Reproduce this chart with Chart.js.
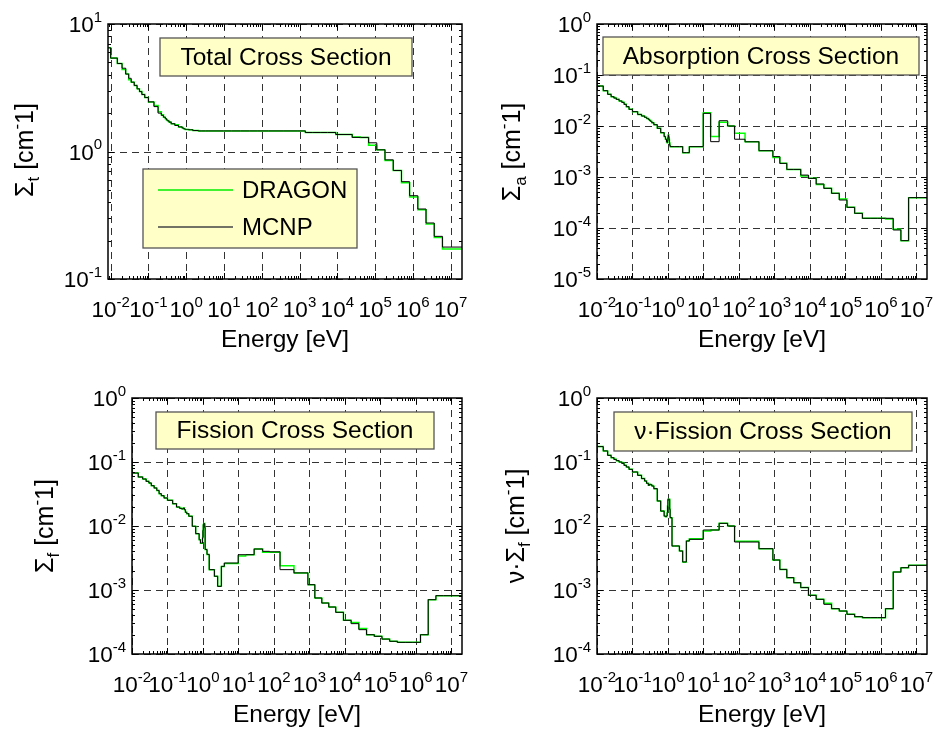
<!DOCTYPE html>
<html><head><meta charset="utf-8">
<script src="https://cdn.jsdelivr.net/npm/chart.js@4.4.1/dist/chart.umd.min.js"></script>
<style>
html,body{margin:0;padding:0;background:#fff;}
#wrap{position:relative;width:933px;height:733px;overflow:hidden;background:#fff;}
#wrap canvas{position:absolute;left:0;top:0;}
</style></head><body><div id="wrap">
<canvas id="c0" width="933" height="733"></canvas>
<canvas id="c1" width="933" height="733"></canvas>
<canvas id="c2" width="933" height="733"></canvas>
<canvas id="c3" width="933" height="733"></canvas>
</div>
<script>
// Group energy boundaries [eV] (ascending); last value = upper limit of the plotted data
const energyEdges = [0.005, 0.01, 0.015, 0.02, 0.025, 0.03, 0.035, 0.042, 0.05, 0.058,
  0.067, 0.08, 0.1, 0.14, 0.18, 0.22, 0.25, 0.28, 0.3, 0.32,
  0.35, 0.4, 0.5, 0.625, 0.78, 0.85, 0.91, 0.95, 0.972, 0.996,
  1.02, 1.045, 1.071, 1.097, 1.123, 1.15, 1.3, 1.5, 2.1, 2.6,
  3.3, 4.0, 9.877, 15.968, 27.7, 48.052, 75.501, 148.73, 367.26, 906.9,
  1425.1, 2239.45, 3519.1, 5530, 9118, 15030, 24780, 40850, 67340, 111000,
  183000, 302500, 500000, 821000, 1353000, 2231000, 3679000, 6065500, 20000000];

// Total cross section [cm^-1]
const totalMCNP = [6.5, 5.4, 4.9, 4.5, 4.05, 3.75, 3.5, 3.3, 3.1, 2.95,
  2.8, 2.65, 2.45, 2.25, 2.0, 1.92, 1.86, 1.81, 1.77, 1.74,
  1.70, 1.65, 1.60, 1.56, 1.53, 1.51, 1.50, 1.49, 1.49, 1.49,
  1.49, 1.49, 1.49, 1.49, 1.49, 1.48, 1.48, 1.46, 1.45, 1.45,
  1.45, 1.45, 1.45, 1.45, 1.45, 1.45, 1.45, 1.45, 1.45, 1.45,
  1.41, 1.41, 1.41, 1.41, 1.36, 1.36, 1.29, 1.29, 1.17, 1.03,
  0.86, 0.71, 0.58, 0.45, 0.354, 0.275, 0.216, 0.178];
const totalDRAGON = [6.5, 5.4, 4.9, 4.4, 4.05, 3.65, 3.5, 3.3, 3.1, 2.95,
  2.8, 2.65, 2.45, 2.3, 2.05, 1.94, 1.86, 1.81, 1.77, 1.74,
  1.70, 1.65, 1.62, 1.56, 1.53, 1.51, 1.50, 1.49, 1.49, 1.49,
  1.49, 1.49, 1.49, 1.49, 1.49, 1.48, 1.48, 1.46, 1.45, 1.45,
  1.45, 1.45, 1.45, 1.45, 1.45, 1.45, 1.45, 1.45, 1.45, 1.45,
  1.41, 1.41, 1.41, 1.41, 1.36, 1.36, 1.30, 1.29, 1.12, 1.03,
  0.85, 0.71, 0.57, 0.44, 0.35, 0.27, 0.212, 0.172];

// Absorption cross section [cm^-1]
const absMCNP = [0.093, 0.0608, 0.0493, 0.0418, 0.0376, 0.0354, 0.0333, 0.031, 0.0291, 0.0266,
  0.0239, 0.0212, 0.0191, 0.0169, 0.0157, 0.0148, 0.0141, 0.0135, 0.0129, 0.0124,
  0.0116, 0.0106, 0.009, 0.0074, 0.0062, 0.0055, 0.0049, 0.0047, 0.0052, 0.006,
  0.0067, 0.0062, 0.0055, 0.0047, 0.0042, 0.00394, 0.00394, 0.00394, 0.00394, 0.0030,
  0.0030, 0.00394, 0.0177, 0.00493, 0.0127, 0.0100, 0.0055, 0.0049, 0.00328, 0.00251,
  0.00185, 0.00141, 0.00141, 0.00109, 0.00094, 0.00073, 0.0006, 0.000479, 0.000354, 0.000254,
  0.000194, 0.000155, 0.000155, 0.000155, 0.000155, 0.0000914, 0.0000565, 0.000394];
const absDRAGON = [0.093, 0.0608, 0.0493, 0.0418, 0.0376, 0.0354, 0.0333, 0.031, 0.0291, 0.0266,
  0.0239, 0.0212, 0.0191, 0.0169, 0.0157, 0.0148, 0.0141, 0.0135, 0.0129, 0.0124,
  0.0116, 0.0106, 0.009, 0.0074, 0.0062, 0.0055, 0.0049, 0.0047, 0.0052, 0.006,
  0.0067, 0.0062, 0.0055, 0.0047, 0.0042, 0.00394, 0.00394, 0.00394, 0.00394, 0.0030,
  0.0030, 0.00394, 0.0181, 0.0062, 0.0118, 0.0100, 0.0072, 0.0049, 0.00328, 0.0024,
  0.00185, 0.00141, 0.00141, 0.00105, 0.00094, 0.00071, 0.0006, 0.000479, 0.00037, 0.000254,
  0.000194, 0.000155, 0.000155, 0.000155, 0.00015, 0.000095, 0.0000565, 0.000394];

// Fission cross section [cm^-1]
const fisMCNP = [0.0856, 0.0673, 0.0583, 0.0542, 0.0499, 0.047, 0.0427, 0.0393, 0.036, 0.032,
  0.0298, 0.0274, 0.0252, 0.0223, 0.0198, 0.0189, 0.0185, 0.0191, 0.018, 0.0164,
  0.0156, 0.0142, 0.0099, 0.0076, 0.0061, 0.0054, 0.0054, 0.0054, 0.0065, 0.0085,
  0.0105, 0.0109, 0.0109, 0.0109, 0.0095, 0.0043, 0.0036, 0.00208, 0.00164, 0.00114,
  0.00234, 0.00264, 0.00356, 0.00356, 0.00437, 0.00402, 0.00395, 0.00208, 0.00185, 0.00121,
  0.00075, 0.000626, 0.000542, 0.000448, 0.000336, 0.000298, 0.00024, 0.0002, 0.000189, 0.000171,
  0.000158, 0.000152, 0.000152, 0.000152, 0.0002, 0.000706, 0.000815, 0.000815];
const fisDRAGON = [0.0856, 0.0673, 0.0583, 0.0542, 0.0499, 0.047, 0.0427, 0.0393, 0.036, 0.032,
  0.0298, 0.0274, 0.0252, 0.0223, 0.0198, 0.0189, 0.0185, 0.0191, 0.018, 0.0164,
  0.0156, 0.0142, 0.0099, 0.0076, 0.0061, 0.0054, 0.0054, 0.0054, 0.0065, 0.0085,
  0.0105, 0.0109, 0.0109, 0.0109, 0.0095, 0.0043, 0.0036, 0.00208, 0.00164, 0.00114,
  0.00232, 0.0026, 0.0034, 0.00356, 0.00437, 0.0039, 0.0039, 0.0024, 0.00185, 0.00121,
  0.00075, 0.000626, 0.000542, 0.000448, 0.000336, 0.00031, 0.00025, 0.0002, 0.000189, 0.000171,
  0.000158, 0.000152, 0.000152, 0.000152, 0.0002, 0.000706, 0.000815, 0.000815];

// nu-Fission cross section [cm^-1]
const nufisMCNP = [0.205, 0.174, 0.149, 0.127, 0.117, 0.110, 0.105, 0.100, 0.0953, 0.0887,
  0.0835, 0.0768, 0.0698, 0.0619, 0.055, 0.0505, 0.0465, 0.0432, 0.0448, 0.0442,
  0.0422, 0.0383, 0.0246, 0.0171, 0.0143, 0.014, 0.0143, 0.0162, 0.0205, 0.0261,
  0.0261, 0.0261, 0.0261, 0.0261, 0.0182, 0.0135, 0.00487, 0.00487, 0.00407, 0.00274,
  0.00583, 0.00619, 0.00866, 0.00866, 0.0110, 0.0100, 0.00562, 0.00562, 0.00442, 0.00294,
  0.0021, 0.00156, 0.0013, 0.00109, 0.000826, 0.000715, 0.000597, 0.000511, 0.000469, 0.000417,
  0.000383, 0.00037, 0.00037, 0.00037, 0.000511, 0.00191, 0.00223, 0.00243];
const nufisDRAGON = [0.205, 0.174, 0.149, 0.127, 0.117, 0.110, 0.105, 0.100, 0.0953, 0.0887,
  0.0835, 0.0768, 0.0698, 0.0619, 0.055, 0.0505, 0.0465, 0.0432, 0.0448, 0.0442,
  0.0422, 0.0383, 0.0246, 0.0171, 0.0143, 0.014, 0.0143, 0.0162, 0.0205, 0.0261,
  0.0261, 0.0261, 0.0261, 0.0261, 0.0182, 0.0135, 0.00487, 0.00487, 0.00407, 0.00274,
  0.00583, 0.00634, 0.00835, 0.00866, 0.0110, 0.0100, 0.0058, 0.0058, 0.00442, 0.00294,
  0.0021, 0.00156, 0.0013, 0.00109, 0.000826, 0.000715, 0.00062, 0.000511, 0.000469, 0.000417,
  0.000383, 0.00037, 0.00037, 0.00037, 0.000511, 0.00191, 0.00223, 0.00243];

const seriesNames = ['DRAGON', 'MCNP'];
const xAxisTitle = 'Energy [eV]';

const FONT = '"Liberation Sans", Arial, Helvetica, sans-serif';

function stepPoints(vals) {
  const pts = vals.map((v, i) => ({x: energyEdges[i], y: v}));
  pts.push({x: energyEdges[energyEdges.length - 1], y: vals[vals.length - 1]});
  return pts;
}

const panels = [
  {id:'c0', pad:{left:108, top:24, right:471, bottom:454}, xMin:8.5e-3, xMax:2e7, yMin:0.1, yMax:10,
   mcnp:totalMCNP, dragon:totalDRAGON, title:'Total Cross Section', titleBox:[160,38,252,38],
   yLabel:[['Σ',''],['t','sub'],[' [cm',''],['-','sup'],['1]','']], yLabelPos:[25,150],
   legend:{box:[143,169,214,79]}},
  {id:'c1', pad:{left:597, top:24, right:6, bottom:454}, xMin:1e-2, xMax:2e7, yMin:1e-5, yMax:1,
   mcnp:absMCNP, dragon:absDRAGON, title:'Absorption Cross Section', titleBox:[603,37,316,38],
   yLabel:[['Σ',''],['a','sub'],[' [cm',''],['-','sup'],['1]','']], yLabelPos:[512,152]},
  {id:'c2', pad:{left:132, top:398, right:471, bottom:79}, xMin:1e-2, xMax:2e7, yMin:1e-4, yMax:1,
   mcnp:fisMCNP, dragon:fisDRAGON, title:'Fission Cross Section', titleBox:[156,412,278,37],
   yLabel:[['Σ',''],['f','sub'],[' [cm',''],['-','sup'],['1]','']], yLabelPos:[45,526]},
  {id:'c3', pad:{left:597, top:398, right:6, bottom:79}, xMin:1e-2, xMax:2e7, yMin:1e-4, yMax:1,
   mcnp:nufisMCNP, dragon:nufisDRAGON, title:'ν·Fission Cross Section', titleBox:[614,412,298,39],
   yLabel:[['ν·Σ',''],['f','sub'],[' [cm',''],['-','sup'],['1]','']], yLabelPos:[516,526]}
];

function decades(min, max) {
  const out = [];
  for (let e = Math.floor(Math.log10(min)) - 1; e <= Math.ceil(Math.log10(max)) + 1; e++) {
    const v = Math.pow(10, e);
    if (v >= min * 0.999 && v <= max * 1.001) out.push(e);
  }
  return out;
}
function minors(min, max) {
  const out = [];
  for (let e = Math.floor(Math.log10(min)) - 1; e <= Math.ceil(Math.log10(max)); e++) {
    for (let m = 2; m <= 9; m++) { const v = m * Math.pow(10, e); if (v > min && v < max) out.push(v); }
  }
  return out;
}

function drawPow(ctx, exp, x, y, align) {
  const base = '10', ex = String(exp);
  ctx.font = '22.5px ' + FONT; const wb = ctx.measureText(base).width;
  ctx.font = '15px ' + FONT; const we = ctx.measureText(ex).width;
  const w = wb + we;
  const x0 = align === 'right' ? x - w : (align === 'center' ? x - w / 2 : x);
  ctx.textAlign = 'left'; ctx.textBaseline = 'alphabetic';
  ctx.font = '22.5px ' + FONT; ctx.fillText(base, x0, y);
  ctx.font = '15px ' + FONT; ctx.fillText(ex, x0 + wb, y - 10.5);
}

function drawRuns(ctx, runs, cx, cy) {
  // rotated text, centred at cx,cy
  const sizes = {'': 25, sub: 17, sup: 17};
  let total = 0;
  const widths = runs.map(r => { ctx.font = sizes[r[1]] + 'px ' + FONT; const w = ctx.measureText(r[0]).width; total += w; return w; });
  ctx.save();
  ctx.translate(cx, cy); ctx.rotate(-Math.PI / 2);
  ctx.textAlign = 'left'; ctx.textBaseline = 'alphabetic'; ctx.fillStyle = '#000';
  let x = -total / 2;
  runs.forEach((r, i) => {
    ctx.font = sizes[r[1]] + 'px ' + FONT;
    const dy = r[1] === 'sub' ? 6 : (r[1] === 'sup' ? -11 : 0);
    ctx.fillText(r[0], x, 8 + dy);
    x += widths[i];
  });
  ctx.restore();
}

function makeDecor(p) {
  return {
    id: 'decor_' + p.id,
    beforeDatasetsDraw(chart) {
      const {ctx, chartArea: a, scales: {x, y}} = chart;
      ctx.save();
      ctx.strokeStyle = 'rgba(0,0,0,0.8)'; ctx.lineWidth = 1; ctx.setLineDash([7, 5]);
      decades(p.xMin, p.xMax).forEach(e => {
        const px = Math.round(x.getPixelForValue(Math.pow(10, e))) + 0.5;
        ctx.beginPath(); ctx.moveTo(px, a.top); ctx.lineTo(px, a.bottom); ctx.stroke();
      });
      decades(p.yMin, p.yMax).forEach(e => {
        const py = Math.round(y.getPixelForValue(Math.pow(10, e))) + 0.5;
        ctx.beginPath(); ctx.moveTo(a.left, py); ctx.lineTo(a.right, py); ctx.stroke();
      });
      ctx.restore();
    },
    afterDatasetsDraw(chart) {
      const {ctx, chartArea: a, scales: {x, y}} = chart;
      ctx.save();
      ctx.setLineDash([]);
      // ticks
      ctx.strokeStyle = '#000'; ctx.lineWidth = 1;
      const tick = (px, len, vertical) => {
        ctx.beginPath();
        if (vertical) { ctx.moveTo(px, a.bottom); ctx.lineTo(px, a.bottom - len); ctx.moveTo(px, a.top); ctx.lineTo(px, a.top + len); }
        else { ctx.moveTo(a.left, px); ctx.lineTo(a.left + len, px); ctx.moveTo(a.right, px); ctx.lineTo(a.right - len, px); }
        ctx.stroke();
      };
      decades(p.xMin, p.xMax).forEach(e => tick(Math.round(x.getPixelForValue(Math.pow(10, e))) + 0.5, 6, true));
      minors(p.xMin, p.xMax).forEach(v => tick(Math.round(x.getPixelForValue(v)) + 0.5, 3, true));
      decades(p.yMin, p.yMax).forEach(e => tick(Math.round(y.getPixelForValue(Math.pow(10, e))) + 0.5, 6, false));
      minors(p.yMin, p.yMax).forEach(v => tick(Math.round(y.getPixelForValue(v)) + 0.5, 3, false));
      // frame
      ctx.lineWidth = 1.5; ctx.strokeStyle = '#000';
      ctx.strokeRect(a.left, a.top, a.right - a.left, a.bottom - a.top);
      // tick labels
      ctx.fillStyle = '#000';
      decades(p.xMin, p.xMax).forEach(e => drawPow(ctx, e, x.getPixelForValue(Math.pow(10, e)), a.bottom + 38, 'center'));
      decades(p.yMin, p.yMax).forEach(e => drawPow(ctx, e, a.left - 6, y.getPixelForValue(Math.pow(10, e)) + 8, 'right'));
      // axis titles
      ctx.font = '24.5px ' + FONT; ctx.textAlign = 'center'; ctx.textBaseline = 'alphabetic';
      ctx.fillText(xAxisTitle, (a.left + a.right) / 2, a.bottom + 68);
      drawRuns(ctx, p.yLabel, p.yLabelPos[0], p.yLabelPos[1]);
      // title box
      const [bx, by, bw, bh] = p.titleBox;
      ctx.fillStyle = '#FFFFC8'; ctx.fillRect(bx, by, bw, bh);
      ctx.strokeStyle = '#555'; ctx.lineWidth = 1.3; ctx.strokeRect(bx, by, bw, bh);
      ctx.fillStyle = '#000'; ctx.font = '24.5px ' + FONT; ctx.textAlign = 'center'; ctx.textBaseline = 'middle';
      ctx.fillText(p.title, bx + bw / 2, by + bh / 2 + 1);
      // legend
      if (p.legend) {
        const [lx, ly, lw, lh] = p.legend.box;
        ctx.fillStyle = '#FFFFC8'; ctx.fillRect(lx, ly, lw, lh);
        ctx.strokeStyle = '#555'; ctx.lineWidth = 1.3; ctx.strokeRect(lx, ly, lw, lh);
        const rows = [[seriesNames[0], '#00EE00', ly + 21], [seriesNames[1], '#444', ly + 58]];
        rows.forEach(r => {
          ctx.strokeStyle = r[1]; ctx.lineWidth = 1.4;
          ctx.beginPath(); ctx.moveTo(lx + 15, r[2]); ctx.lineTo(lx + 90, r[2]); ctx.stroke();
          ctx.fillStyle = '#000'; ctx.font = '24px ' + FONT; ctx.textAlign = 'left'; ctx.textBaseline = 'middle';
          ctx.fillText(r[0], lx + 99, r[2] + 1);
        });
      }
      ctx.restore();
    }
  };
}

panels.forEach(p => {
  new Chart(document.getElementById(p.id), {
    type: 'line',
    data: {
      datasets: [
        {label: seriesNames[1], data: stepPoints(p.mcnp), stepped: 'before', borderColor: '#000', borderWidth: 1.0, pointRadius: 0, fill: false},
        {label: seriesNames[0], data: stepPoints(p.dragon), stepped: 'before', borderColor: '#00FF00', borderWidth: 1.5, pointRadius: 0, fill: false}
      ]
    },
    options: {
      responsive: false, animation: false, events: [],
      layout: {padding: p.pad},
      plugins: {legend: {display: false}, tooltip: {enabled: false}, title: {display: false}},
      scales: {
        x: {type: 'logarithmic', min: p.xMin, max: p.xMax, display: false},
        y: {type: 'logarithmic', min: p.yMin, max: p.yMax, display: false}
      }
    },
    plugins: [makeDecor(p)]
  });
});
</script></body></html>
